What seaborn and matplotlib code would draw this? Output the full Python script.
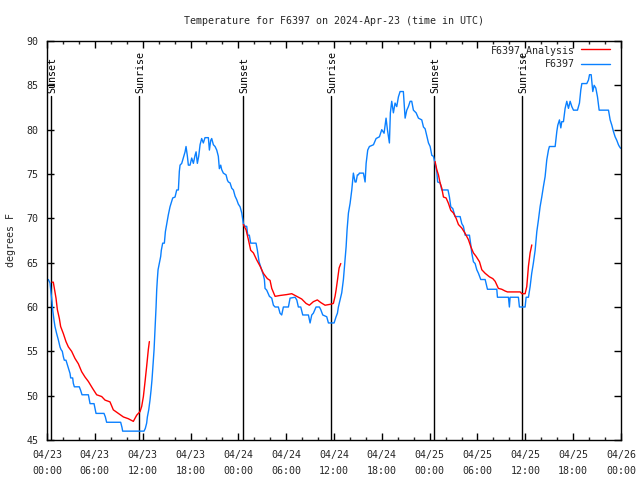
import matplotlib
matplotlib.use("Agg")
import matplotlib.pyplot as plt
import seaborn as sns
import pandas as pd
import numpy as np
from matplotlib.lines import Line2D

# ---------------- data (hours since 2024-04-23 00:00 UTC, degrees F) ----------------
obs_hours = [0.17, 0.38, 0.5, 0.63, 0.71, 0.88, 1.0, 1.21, 1.42, 1.63, 1.76, 1.92, 2.05, 2.17, 2.38,
             2.55, 2.68, 2.89, 2.97, 3.22, 3.3, 3.43, 4.05, 4.22, 4.39, 5.19, 5.31, 5.4, 5.9, 6.02,
             6.15, 7.15, 7.32, 7.48, 9.24, 9.41, 9.49, 12.17, 12.33, 12.5, 12.59, 12.76, 12.92, 13.05,
             13.17, 13.26, 13.34, 13.43, 13.51, 13.59, 13.68, 13.76, 13.84, 13.93, 14.09, 14.26, 14.34,
             14.51, 14.72, 14.85, 15.02, 15.22, 15.43, 15.64, 15.77, 16.06, 16.27, 16.48, 16.6, 16.69,
             16.9, 17.1, 17.32, 17.44, 17.61, 17.73, 17.94, 18.15, 18.36, 18.57, 18.7, 18.86, 19.03,
             19.2, 19.4, 19.61, 19.82, 20.24, 20.37, 20.54, 20.66, 20.87, 21.08, 21.29, 21.49, 21.62,
             21.79, 21.91, 22.12, 22.46, 22.63, 22.75, 22.96, 23.17, 23.38, 23.59, 23.8, 24.0, 24.22,
             24.43, 24.63, 24.84, 25.05, 25.18, 25.38, 25.55, 26.22, 26.39, 26.6, 26.93, 27.14, 27.27,
             27.35, 27.56, 27.9, 28.19, 28.4, 28.61, 29.02, 29.23, 29.44, 29.65, 30.28, 30.49, 31.12,
             31.33, 31.53, 31.83, 32.08, 32.79, 33.0, 33.21, 33.41, 33.75, 34.17, 34.34, 34.59, 35.09,
             35.3, 36.01, 36.26, 36.43, 36.55, 36.76, 36.97, 37.18, 37.39, 37.52, 37.64, 37.81, 38.02,
             38.23, 38.43, 38.64, 38.77, 38.93, 39.06, 39.18, 39.69, 39.9, 40.03, 40.23, 40.44, 40.95,
             41.28, 41.7, 41.99, 42.28, 42.53, 42.7, 42.95, 43.07, 43.24, 43.45, 43.66, 43.87, 44.08,
             44.29, 44.7, 44.92, 45.13, 45.33, 45.55, 45.75, 45.96, 46.3, 46.59, 47.01, 47.22, 47.43,
             47.64, 47.85, 48.06, 48.27, 48.47, 48.68, 48.89, 49.0, 49.31, 49.52, 50.3, 50.48, 50.65,
             50.9, 51.19, 51.82, 52.03, 52.23, 52.45, 52.99, 53.16, 53.28, 53.49, 53.7, 53.91, 54.12,
             54.41, 54.96, 55.25, 56.42, 56.5, 57.88, 58.0, 58.09, 59.13, 59.26, 59.97, 60.1, 60.39,
             60.6, 60.8, 61.0, 61.23, 61.44, 61.64, 61.85, 62.06, 62.27, 62.48, 62.69, 62.9, 63.02,
             63.74, 63.95, 64.07, 64.28, 64.45, 64.57, 64.78, 64.99, 65.2, 65.41, 65.62, 65.83, 66.04,
             66.54, 66.79, 66.96, 67.09, 67.71, 67.92, 68.05, 68.26, 68.46, 68.63, 68.84, 69.05, 69.26,
             70.43, 70.64, 70.85, 71.05, 71.26, 71.47, 71.68, 71.8, 71.95]
obs_temps = [63.1, 62.7, 61.6, 60.6, 59.7, 58.5, 57.8, 57.0, 56.3, 55.5, 55.2, 55.0, 54.4, 54.0, 54.0,
             53.5, 53.1, 52.5, 52.0, 52.0, 51.4, 51.0, 51.0, 50.6, 50.1, 50.1, 49.5, 49.1, 49.1, 48.6,
             48.0, 48.0, 47.6, 47.0, 47.0, 46.4, 46.0, 46.0, 46.3, 46.9, 47.6, 48.4, 49.5, 50.6,
             51.8, 52.9, 54.0, 55.2, 56.7, 58.2, 60.0, 61.9, 63.1, 64.2, 64.9, 65.7, 66.4,
             67.2, 67.2, 68.5, 69.4, 70.4, 71.3, 71.9, 72.3, 72.4, 73.2, 73.2, 75.3, 76.0,
             76.2, 76.8, 77.5, 78.1, 77.0, 76.0, 76.0, 76.8, 76.2, 77.1, 77.5, 76.2, 77.0,
             78.3, 79.0, 78.5, 79.1, 79.1, 77.7, 78.8, 79.0, 78.3, 78.1, 77.7, 77.0, 75.6,
             76.0, 75.5, 75.1, 74.9, 74.3, 74.1, 74.0, 73.4, 73.2, 72.5, 72.1, 71.6, 71.3,
             70.6, 69.4, 69.1, 69.1, 68.1, 68.1, 67.2, 67.2, 66.4, 65.1, 64.2, 63.6, 63.1,
             62.1, 61.9, 61.2, 61.0, 60.2, 60.0, 60.0, 59.3, 59.1, 60.0, 60.0, 61.0, 61.1,
             60.8, 60.0, 60.0, 59.1, 59.1, 58.2, 59.1, 59.3, 60.0, 60.0, 59.7, 59.1, 58.9,
             58.2, 58.2, 58.9, 59.3, 60.0, 60.8, 61.6, 63.1, 65.3, 66.8, 68.7, 70.6, 71.7,
             73.2, 75.1, 74.1, 74.1, 74.9, 74.9, 75.1, 75.1, 74.1, 76.2, 77.7, 78.1, 78.3,
             79.0, 79.2, 80.0, 79.6, 81.3, 80.0, 78.5, 81.9, 83.2, 81.9, 83.0, 82.6, 83.7,
             84.3, 84.3, 81.3, 82.2, 82.6, 83.2, 83.2, 82.2, 81.9, 81.3, 81.1, 80.3, 80.1,
             79.3, 78.5, 78.1, 77.1, 77.0, 76.2, 75.3, 74.1, 74.0, 73.2, 73.2, 72.4, 71.3,
             71.1, 70.2, 70.2, 69.4, 69.1, 68.1, 68.1, 67.0, 66.1, 65.1, 64.9, 64.2, 63.8,
             63.1, 63.1, 62.0, 62.0, 61.1, 61.1, 60.0, 61.1, 61.1, 60.0, 60.0, 61.1, 61.1,
             62.3, 63.8, 64.9, 66.4, 68.5, 69.8, 71.3, 72.4, 73.6, 74.7, 76.6, 77.7, 78.1,
             78.1, 79.8, 80.5, 81.1, 80.2, 80.9, 80.9, 82.4, 83.2, 82.4, 83.2, 82.6, 82.2,
             82.2, 83.0, 84.5, 85.2, 85.2, 85.6, 86.2, 86.2, 84.3, 85.0, 84.7, 83.7, 82.2,
             82.2, 81.1, 80.5, 79.8, 79.2, 78.8, 78.3, 78.1, 77.9]

ana1_hours = [0.63, 0.79, 0.96, 1.13, 1.3, 1.55, 1.71, 2.05, 2.38, 2.68, 3.09, 3.51, 3.93, 4.35, 4.77,
              5.19, 5.73, 6.23, 6.86, 7.28, 7.9, 8.32, 8.95, 9.58, 10.2, 10.83, 11.25, 11.67, 11.88,
              12.09, 12.3, 12.5, 12.71, 12.84]
ana1_temps = [62.8, 62.8, 61.9, 61.0, 59.7, 58.7, 57.8, 57.0, 56.1, 55.5, 55.0, 54.2, 53.6, 52.7, 52.1,
              51.6, 50.8, 50.1, 49.9, 49.5, 49.3, 48.4, 48.0, 47.6, 47.4, 47.1, 47.8, 48.2, 48.8,
              49.9, 51.6, 53.3, 55.2, 56.1]
ana2_hours = [24.63, 24.97, 25.26, 25.55, 25.89, 26.31, 26.73, 27.14, 27.64, 27.98, 28.19, 28.61, 29.23,
              30.07, 30.7, 31.33, 31.95, 32.5, 32.91, 33.41, 33.91, 34.34, 34.88, 35.51, 35.92, 36.13,
              36.26, 36.43, 36.64, 36.85]
ana2_temps = [69.3, 68.7, 67.6, 66.4, 66.1, 65.3, 64.6, 63.8, 63.2, 63.0, 62.1, 61.2, 61.3,
              61.4, 61.5, 61.2, 60.9, 60.4, 60.2, 60.6, 60.8, 60.5, 60.2, 60.3, 60.4, 61.2,
              61.9, 63.0, 64.4, 64.9]
ana3_hours = [48.68, 48.89, 49.1, 49.31, 49.52, 49.73, 50.06, 50.35, 50.65, 50.98, 51.32, 51.61, 52.03,
              52.45, 52.86, 53.16, 53.49, 53.83, 54.25, 54.54, 54.96, 55.5, 55.92, 56.21, 56.62, 57.04,
              57.47, 57.76, 59.35, 59.56, 59.97, 60.18, 60.39, 60.6, 60.81]
ana3_temps = [76.4, 75.5, 74.9, 74.0, 73.4, 72.4, 72.3, 71.7, 70.9, 70.6, 70.0, 69.3, 68.9,
              68.3, 67.6, 66.8, 66.1, 65.7, 65.1, 64.2, 63.8, 63.4, 63.2, 62.9, 62.1, 62.0,
              61.8, 61.7, 61.7, 61.5, 61.5, 62.3, 64.6, 66.1, 67.0]

sun_hours = [0.5, 11.54, 24.59, 35.62, 48.54, 59.58]
sun_labels = ["Sunset", "Sunrise", "Sunset", "Sunrise", "Sunset", "Sunrise"]

tick_hours = [0, 6, 12, 18, 24, 30, 36, 42, 48, 54, 60, 66, 72]
tick_dates = ["04/23", "04/23", "04/23", "04/23", "04/24", "04/24", "04/24", "04/24",
              "04/25", "04/25", "04/25", "04/25", "04/26"]
tick_times = ["00:00", "06:00", "12:00", "18:00", "00:00", "06:00", "12:00", "18:00",
              "00:00", "06:00", "12:00", "18:00", "00:00"]
y_ticks = [45, 50, 55, 60, 65, 70, 75, 80, 85, 90]

title = "Temperature for F6397 on 2024-Apr-23 (time in UTC)"
ana_name = "F6397_Analysis"
obs_name = "F6397"

# ---------------- styling ----------------
sns.set_style("ticks")
plt.rcParams['font.family'] = ['DejaVu Sans Mono', 'DejaVu Sans']
plt.rcParams['font.size'] = 7

RED = "#ff0000"
BLUE = "#0a80ff"

fig = plt.figure(figsize=(6.4, 4.8), dpi=100)
ax = fig.add_axes([47 / 640, 1 - 440 / 480, (621 - 47) / 640, (440 - 41) / 480])

ana_df = pd.DataFrame({
    "hours": ana1_hours + ana2_hours + ana3_hours,
    "temp": ana1_temps + ana2_temps + ana3_temps,
    "seg": [1] * len(ana1_hours) + [2] * len(ana2_hours) + [3] * len(ana3_hours),
})
obs_df = pd.DataFrame({"hours": obs_hours, "temp": obs_temps})

# sunrise / sunset markers
for h, lab in zip(sun_hours, sun_labels):
    ax.plot([h, h], [45, 83.8], color="black", lw=1.0, zorder=1)
    ax.text(h + 0.2, 84.15, lab, rotation=90, ha="center", va="bottom",
            fontsize=7.2, color="black", zorder=1)

sns.lineplot(data=ana_df, x="hours", y="temp", units="seg", estimator=None, sort=False,
             color=RED, lw=1.0, ax=ax, zorder=3)
sns.lineplot(data=obs_df, x="hours", y="temp", estimator=None, sort=False,
             color=BLUE, lw=1.0, ax=ax, zorder=2)

ax.set_xlim(0, 72)
ax.set_ylim(45, 90)
ax.set_xticks(tick_hours)
ax.set_xticklabels([f"{d}\n{t}" for d, t in zip(tick_dates, tick_times)], linespacing=1.75)
ax.set_xticks(np.arange(0, 73, 2), minor=True)
ax.set_yticks(y_ticks)
ax.set_yticklabels([str(v) for v in y_ticks])

ax.tick_params(axis="both", which="major", direction="in", length=5, width=1,
               top=True, right=True, labelsize=7.2, color="black")
ax.tick_params(axis="x", which="major", pad=7)
ax.tick_params(axis="y", which="major", pad=6)
ax.tick_params(axis="x", which="minor", direction="in", length=2.5, width=1, top=True)
ax.tick_params(axis="y", which="minor", left=False, right=False)

for s in ax.spines.values():
    s.set_visible(True)
    s.set_linewidth(1.0)
    s.set_color("black")

ax.set_xlabel("")
ax.set_ylabel("degrees F", fontsize=7.2, labelpad=8)
ax.set_title(title, fontsize=7.2, pad=12.5)

handles = [Line2D([], [], color=RED, lw=1.0), Line2D([], [], color=BLUE, lw=1.0)]
leg = ax.legend(handles, [ana_name, obs_name], loc="upper right", frameon=False,
                markerfirst=False, fontsize=7.2, handlelength=2.9, handletextpad=0.6,
                labelspacing=0.35, borderaxespad=0.0, borderpad=0.0,
                bbox_to_anchor=(1 - 11 / 574, 1 - 4 / 399))
for t in leg.get_texts():
    t.set_ha("right")

fig.savefig("out.png", dpi=100)
